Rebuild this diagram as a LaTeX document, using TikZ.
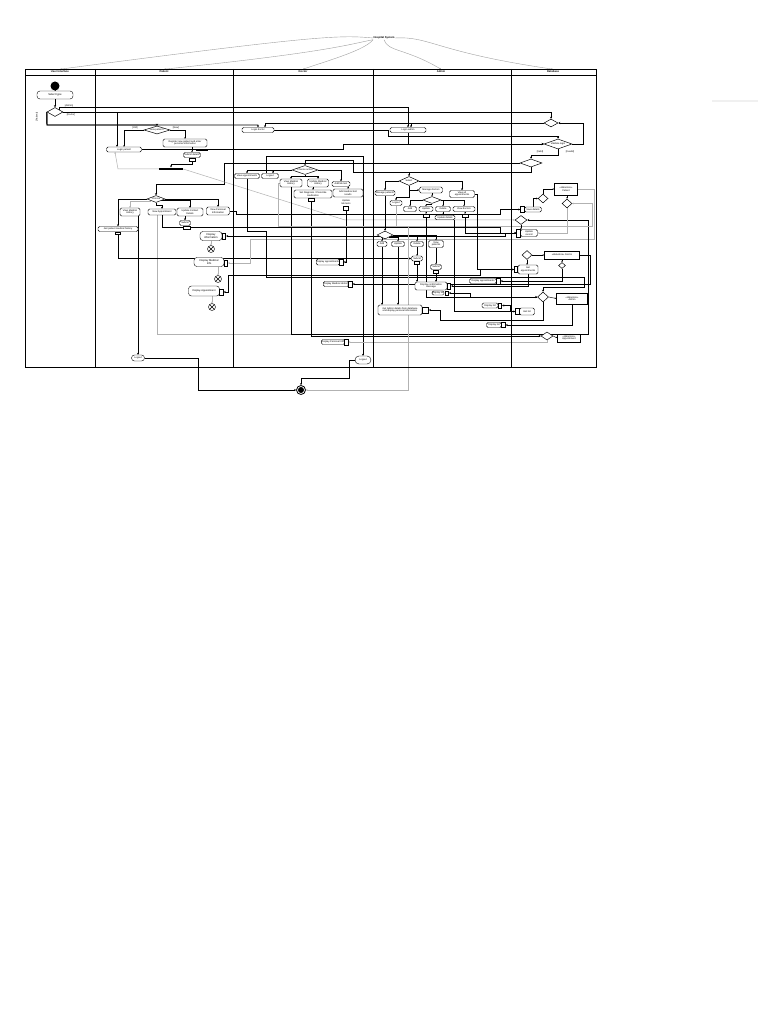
\documentclass[tikz,border=0pt]{standalone}
\usepackage{fontspec}
\setmainfont{Liberation Sans}
\usetikzlibrary{shapes.geometric,arrows.meta}
\pgfdeclarelayer{bg}
\pgfdeclarelayer{edges}
\pgfsetlayers{bg,edges,main}
\begin{document}
\begin{tikzpicture}[x=1pt,y=-1pt,
  every node/.style={font=\fontsize{2.4}{2.7}\selectfont, inner sep=0.3pt},
  act/.style={draw, rounded corners=1.5pt, fill=white, line width=0.4pt, align=center, minimum height=5pt},
  dec/.style={draw, diamond, aspect=2.5, fill=white, line width=0.5pt, inner sep=0pt, align=center},
  pinbox/.style={draw, fill=white, line width=0.8pt, inner sep=0pt, minimum width=3.5pt, minimum height=6pt},
  store/.style={draw, fill=white, line width=0.7pt, align=center, inner sep=0.5pt},
  xend/.style={draw, circle, fill=white, line width=0.45pt, inner sep=0pt, minimum size=7pt,
    path picture={\draw[line width=0.45pt] (path picture bounding box.north west)--(path picture bounding box.south east) (path picture bounding box.north east)--(path picture bounding box.south west);}},
  flow/.style={line width=0.95pt, -{Stealth[length=2pt,width=2pt]}},
  gflow/.style={line width=0.5pt, draw=gray!60, -{Stealth[length=1.6pt,width=1.6pt]}},
  tflow/.style={line width=0.45pt, -{Stealth[length=1.5pt,width=1.5pt]}},
  gline/.style={line width=0.5pt, draw=gray!60},
  curve/.style={line width=0.4pt, draw=gray!75, -{Stealth[length=1.8pt,width=1.6pt]}},
  lane/.style={line width=0.8pt},
  hdr/.style={font=\bfseries\fontsize{2.7}{3}\selectfont},
  guard/.style={font=\fontsize{2.4}{2.7}\selectfont, inner sep=0.2pt},
]
\useasboundingbox (0,0) rectangle (768,1024);
\begin{pgfonlayer}{bg}
\fill[white] (0,0) rectangle (768,1024);
\end{pgfonlayer}

% ---------- frame and lanes ----------
\draw[lane] (25,69) rectangle (596,367);
\draw[lane] (25,75) -- (596,75);
\foreach \x in {95,233,373,511} \draw[lane] (\x,69) -- (\x,367);
\node[hdr] (hui) at (60,72) {User Interface};
\node[hdr] (hpa) at (164,72) {Patient};
\node[hdr] (hdo) at (303,72) {Doctor};
\node[hdr] (had) at (441,72) {Admin};
\node[hdr] (hdb) at (553,72) {Database};
\coordinate (t1) at (60,69.2);
\coordinate (t2) at (164,69.2);
\coordinate (t3) at (303,69.2);
\coordinate (t4) at (441,69.2);
\coordinate (t5) at (553,69.2);
\node[font=\bfseries\fontsize{2.7}{3}\selectfont] (lab) at (384,38) {Hospital System};
\draw[gray!12, line width=1.2pt] (712,101) -- (758,101);

% ---------- user interface ----------
\node[circle, fill=black, inner sep=0, minimum size=9pt] (init) at (55,86) {};
\node[act, rounded corners=3pt, minimum width=36pt, minimum height=8pt, font=\fontsize{2.7}{3}\selectfont] (sel) at (55,95) {Select type};
\node[dec, minimum width=16pt, minimum height=9pt] (d1) at (55,112) {};
\node[guard] (gA) at (69,105.6) {[Admin]};
\node[guard] (gD) at (71,115) {[Doctor]};
\node[guard, rotate=90] (gP) at (37,117) {[Patient]};

% ---------- patient ----------
\node[dec, minimum width=26pt, minimum height=8pt] (dno) at (157,130) {New patient?};
\node[guard] (gO) at (135,128) {[Old]};
\node[guard] (gN) at (176,128) {[New]};
\node[act, minimum width=44pt, minimum height=8pt] (reg) at (185,143) {Register new patient and enter\\personal information};
\node[act, minimum width=35pt] (lpat) at (124,149.5) {Login patient};
\node[act, minimum width=17pt] (sd) at (192,155) {Submit details};
\node[fill=black, inner sep=0, minimum width=12pt, minimum height=2.2pt] (pbar) at (202,150) {};
\node[pinbox, minimum width=6pt, minimum height=3pt] (p1) at (192,160) {};
\node[fill=black, inner sep=0, minimum width=24pt, minimum height=2.8pt] (fork) at (171,169) {};
\node[dec, minimum width=18pt, minimum height=7pt] (dpat) at (156,199) {Choose};
\node[act, minimum width=20pt, minimum height=8pt] (vmh) at (130,212) {View Medical\\History};
\node[act, minimum width=28pt, minimum height=6pt] (nap) at (162,212) {New Appointment};
\node[act, minimum width=26pt, minimum height=8pt] (ucd) at (190,212) {Update Contact\\Details};
\node[act, minimum width=23pt, minimum height=8pt] (vpi) at (218,211) {View Personal\\Information};
\node[act, minimum width=40pt] (gpm) at (118,229) {Get patient medical history};
\node[pinbox, minimum width=5pt, minimum height=2.5pt] (p2) at (118,233.5) {};
\node[act, minimum width=11pt] (sub) at (185,223) {Submit};
\node[pinbox, minimum width=7pt, minimum height=3pt] (p3) at (187,228) {};
\node[act, rounded corners=3pt, minimum width=22pt, minimum height=9pt, font=\fontsize{2.7}{3}\selectfont] (din) at (211,236) {Display\\information};
\node[pinbox] (p4) at (224,236) {};
\node[xend] (x1) at (211,249) {};
\node[act, rounded corners=3pt, minimum width=30pt, minimum height=9pt, font=\fontsize{2.7}{3}\selectfont] (dmi) at (209,262) {Display Medical\\Info};
\node[pinbox] (p5) at (226,263) {};
\node[xend] (x2) at (218,279) {};
\node[act, rounded corners=3pt, minimum width=31pt, minimum height=10pt, font=\fontsize{2.5}{3}\selectfont] (dap) at (204,291) {Display Appointment};
\node[pinbox] (p6) at (221.5,292) {};
\node[xend] (x3) at (212,307) {};
\node[act, rounded corners=3pt, minimum width=13pt, minimum height=6pt] (lop) at (138,358) {Logout};

% ---------- doctor ----------
\node[act, minimum width=32pt] (ldoc) at (258,130) {Login doctor};
\node[dec, minimum width=26pt, minimum height=9pt] (ddoc) at (305,170) {Choose action};
\node[act, minimum width=25pt] (vap) at (247,176) {View appointments};
\node[act, minimum width=17pt] (lo2) at (270,176) {Logout};
\node[act, minimum width=22pt, minimum height=8pt] (vmh2) at (291,183) {View Medical\\History};
\node[act, minimum width=21pt, minimum height=8pt] (umh) at (318,183) {Update Medical\\History};
\node[act, minimum width=18pt] (alt) at (341,184) {Add lab test};
\node[act, minimum width=38pt, minimum height=8pt] (sdp) at (313,194) {Set Diagnosis / Prescribe\\medication};
\node[pinbox, minimum width=6pt, minimum height=3pt] (p7) at (311,200) {};
\node[act, minimum width=30pt, minimum height=8pt] (amt) at (348,193) {Add medical test\\results};
\node[align=center] (tlt) at (346,202) {Update\\lab tests};
\node[pinbox, minimum width=5pt, minimum height=4pt] (p8) at (346,208.5) {};
\node[act, minimum width=23pt, minimum height=6pt] (dap2) at (328,262) {Display appointments};
\node[pinbox] (p9) at (341.5,262) {};
\node[act, minimum width=24pt] (dmh2) at (336,284) {Display Medical History};
\node[pinbox] (p10) at (350.5,284) {};
\node[act, minimum width=23pt] (dpi2) at (333,342) {Display Personal Info};
\node[pinbox] (p11) at (346.5,342) {};
\node[act, rounded corners=4pt, minimum width=16pt, minimum height=8pt] (lod) at (363,360) {Logout};

% ---------- admin ----------
\node[act, minimum width=36pt] (ladm) at (408,130) {Login admin};
\node[dec, minimum width=20pt, minimum height=9pt] (dadm) at (409,181) {Select};
\node[act, minimum width=20pt] (mpa) at (385,193) {Manage patients};
\node[act, minimum width=23pt, minimum height=6pt] (mdr) at (431,190) {Manage doctors};
\node[act, minimum width=25pt, minimum height=7pt] (vaa) at (462,194) {View all\\appointments};
\node[act, minimum width=12pt] (lad) at (396,203) {Logout};
\node[dec, minimum width=18pt, minimum height=7pt] (dm2) at (432,200) {};
\node[act, minimum width=13pt] (n1) at (410,209) {Add};
\node[act, minimum width=14pt] (n2) at (426,209) {Update};
\node[act, minimum width=15pt] (n3) at (443,209) {Delete};
\node[act, minimum width=22pt] (n4) at (464,209) {View doctors};
\node[pinbox, minimum width=6pt, minimum height=3.5pt] (q1) at (426,216) {};
\node[act, minimum width=20pt, minimum height=4.5pt] (q2) at (445,217.5) {Update details};
\node[pinbox, minimum width=6pt, minimum height=3.5pt] (q3) at (465,216) {};
\node[dec, minimum width=16pt, minimum height=8pt] (dp3) at (385,235) {};
\node[act, minimum width=10pt] (m1) at (382,244) {Add};
\node[act, minimum width=13pt] (m2) at (398,244) {Update};
\node[act, minimum width=13pt] (m3) at (417,244) {Delete};
\node[act, minimum width=15pt, minimum height=7pt] (m4) at (436,244) {View\\patients};
\node[act, minimum width=11pt] (r1) at (417,258.5) {Submit};
\node[pinbox, minimum width=5pt, minimum height=3pt] (q4) at (417,263) {};
\node[act, minimum width=11pt] (r2) at (436,267) {Submit};
\node[pinbox, minimum width=5pt, minimum height=3pt] (q5) at (436,271.5) {};
\node[act, minimum width=27pt] (r3) at (483,281) {Display appointments};
\node[pinbox] (q6) at (498.5,281) {};
\node[act, minimum width=32pt, minimum height=8pt] (r4) at (431,286) {Display confirmation\\message};
\node[pinbox] (q7) at (449,286) {};
\node[act, minimum width=12pt, minimum height=4pt] (r5) at (438,293) {Display list};
\node[pinbox, minimum width=3pt, minimum height=4pt] (q8) at (447,293) {};
\node[act, minimum width=44pt, minimum height=10pt] (r6) at (400,310) {Get Admin details from database\\and display personal information};
\node[pinbox, minimum width=6pt, minimum height=6pt] (q9) at (425.5,310) {};
\node[act, minimum width=16pt] (r7) at (490,305.5) {Display list};
\node[pinbox, minimum height=5pt] (q10) at (500,305.5) {};
\node[act, minimum width=15pt] (r8) at (494,325) {Display list};
\node[pinbox, minimum height=5pt] (q11) at (503.5,325) {};

% ---------- database ----------
\node[dec, minimum width=14pt, minimum height=8pt] (ddb1) at (551,123) {};
\node[dec, minimum width=28pt, minimum height=10pt] (ddb2) at (558,144) {Validate login};
\node[guard] (gV) at (540,151.5) {[Valid]};
\node[guard] (gI) at (570,152) {[Invalid]};
\node[dec, minimum width=22pt, minimum height=8pt] (ddb3) at (531,163) {};
\node[store, minimum width=23pt, minimum height=12pt] (st1) at (566,189) {«datastore»\\Patient};
\node[dec, minimum width=10pt, minimum height=9pt] (dd1) at (543,198.5) {};
\node[dec, minimum width=10pt, minimum height=9pt] (dd2) at (567,203.5) {};
\node[act, minimum width=17pt] (s1) at (533,209.5) {Save details};
\node[pinbox] (sp1) at (522.5,209.5) {};
\node[dec, minimum width=12pt, minimum height=9pt] (dd3) at (521,220) {};
\node[act, minimum width=17pt, minimum height=7pt] (s2) at (529,233) {Update\\record};
\node[pinbox, minimum height=8pt] (sp2) at (518.5,233) {};
\node[dec, minimum width=10pt, minimum height=9pt] (dd4) at (527,255) {};
\node[store, minimum width=35pt, minimum height=8pt] (st2) at (562,255) {«datastore» Doctor};
\node[dec, minimum width=7pt, minimum height=6pt] (dd5) at (562,265.5) {};
\node[act, minimum width=20pt, minimum height=9pt] (s3) at (528,269.5) {Get\\appointments};
\node[pinbox] (sp3) at (516,269.5) {};
\node[dec, minimum width=11pt, minimum height=10pt] (dd6) at (543,297) {};
\node[store, minimum width=31pt, minimum height=11pt] (st3) at (572,298.5) {«datastore»\\Admin};
\node[act, minimum width=15pt, minimum height=7pt] (s4) at (527,311.5) {Get list};
\node[pinbox] (sp4) at (517.5,311.5) {};
\node[dec, minimum width=12pt, minimum height=8pt] (dd7) at (547,336) {};
\node[store, minimum width=23pt, minimum height=8pt] (st4) at (569,338) {«datastore»\\Appointment};

% ---------- final ----------
\node[circle, draw, line width=0.8pt, fill=white, inner sep=0, minimum size=9pt] (fin) at (301,390) {};
\node[circle, fill=black, inner sep=0, minimum size=6pt] (fincore) at (fin.center) {};

% ================= connectors =================
\begin{pgfonlayer}{edges}
% title curves
\draw[curve] (lab.west) .. controls (340,35) and (320,35) .. (t1);
\draw[curve] (lab.south west) .. controls (350,44) and (330,52) .. (t2);
\draw[curve] (lab.south west) .. controls (365,50) and (330,60) .. (t3);
\draw[curve] (lab.south) .. controls (388,52) and (405,48) .. (t4);
\draw[curve] (lab.east) .. controls (430,36) and (435,52) .. (t5);

% login part
\draw[flow] (init) -- (sel);
\draw[flow] (sel) -- (d1);
\draw[flow] (d1.north east) -- ++(0,-1.75) -| (ladm.north);
\draw[flow] (d1.east) -| ([xshift=-7pt]lpat.north);
\draw[flow] (d1.east) -| (ddb1.north);
\draw[flow] (d1.west) -- (47,125) -| (dno.north);
\draw[flow] (d1.west) -- (47,125) -| (ldoc.north);
\draw[flow] (ddb1.west) -| ([xshift=7pt]ldoc.north);
\draw[flow] (ddb1.west) -| ([xshift=3pt]ladm.north);
\draw[flow] (ldoc.east) -- (388,130) |- (558,136) -- (ddb2.north);
\draw[flow] (lpat.east) -- (343,149.5) |- (ddb2.west);
\draw[flow] (ladm.south) |- (ddb2.west);
\draw[flow] (ddb2.east) -- (583,144) |- (ddb1.east);
\draw[flow] (ddb2.south) -- (558,155) -| (ddb3.north);
\draw[flow] (ddb3.south) -- (531,172) -| (dadm.north);
\draw[flow] (ddb3.south) -- (531,172) -- (353,172) -- (353,160) -| (ddoc.north);
\draw[flow] (ddb3.west) -- (224,163) -- (224,184) -| (dpat.north);

% patient
\draw[tflow] (dno.west) -| (lpat.north);
\draw[tflow] (dno.east) -| (reg.north);
\draw[tflow] (reg.south -| sd.north) -- (sd.north);
\draw[flow] (p1.south) -- (192,164) -| (fork.north);
\draw[gflow] (fork.west) -- (118,169) -- ([xshift=-9pt]lpat.south);
\draw[gflow] (fork.east) -- (345,220) -- (dd3.west);
\draw[flow] (dpat.west) -| (gpm.north);
\draw[gflow] (dpat.south west) -| (vmh.north);
\draw[flow] (dpat.south) -- (156,205) -| (nap.north);
\draw[flow] (dpat.south east) -| (ucd.north);
\draw[flow] (dpat.east) -| (vpi.north);
\draw[flow] (vmh.south -| lop.north) -- (lop.north);
\draw[gline] ([xshift=-5pt]nap.south) -- (157,334) -- (300,334);
\draw[flow] (lop.east) -| (198,390) -- (fin.west);
\draw[flow] (ucd.south -| sub.north) -- (sub.north);
\draw[flow] (nap.south) |- (500,227) |- (sp2.west);
\draw[flow] (p2.south) |- (r1.west);
\draw[flow] (vpi.east) -- (236,211) |- (500,214) |- (sp1.west);
\draw[flow] (sp2.west) -- (505,233) |- (p4.east);
\draw[flow] (sp3.west) -- (480,269.5) |- (228,275) |- (p6.east);
\draw[gflow] (st1.east) -- (594,189) |- (250,239) |- (p5.east);
\draw[gflow] (din.south) -- (x1.north);
\draw[gflow] (dmi.south -| x2.north) -- (x2.north);
\draw[gflow] (dap.south -| x3.north) -- (x3.north);

% doctor
\draw[flow] (ddoc.west) -| (vap.north);
\draw[flow] (ddoc.west) -| ([xshift=3pt]lo2.north);
\draw[flow] (ddoc.south) -- (305,176.5) -| (vmh2.north);
\draw[flow] (ddoc.south) -- (305,176.5) -| (umh.north);
\draw[flow] (ddoc.east) -| (alt.north);
\draw[tflow] (umh.south -| sdp.north) -- (sdp.north);
\draw[tflow] (alt.south -| amt.north) -- (amt.north);
\draw[flow] (p8.south) |- (p9.east);
\draw[flow] ([xshift=-4pt]lo2.north) |- (363,156) -- (lod.north);
\draw[flow] (lod.west) -- (349,360) -- (349,378) -| (fin.north);
\draw[flow] (vmh2.south) |- (588,334) -- (588,220) -- (dd3.east);
\draw[flow] (p7.south) |- (dd7.west);
\draw[flow] (vap.south) -- (247,231) -| (266,277) -- (584,277) -- (584,287) -| (dd6.north);
\draw[gflow] (vmh2.west) -| (278,226) -- (592,226) |- (dd2.east);
\draw[flow] (st2.east) -- (590,255) |- (p10.east);
\draw[gflow] (dd7.south) |- (p11.east);

% admin
\draw[flow] (dadm.west) -| (mpa.north);
\draw[flow] (dadm.east) -| (vaa.north);
\draw[flow] (dadm.south) |- (mdr.west);
\draw[flow] (dadm.south) -- (409,197.5) -| (lad.north);
\draw[tflow] (mdr.south -| dm2.north) -- (dm2.north);
\draw[tflow] (dm2.west) -| (n1.north);
\draw[tflow] (dm2.south) -| (n2.north);
\draw[tflow] (dm2.east) -| (n3.north);
\draw[tflow] (dm2.east) -| (n4.north);
\draw[tflow] (n2.south) -- (q1.north);
\draw[tflow] (n3.south) -- (n3.south |- q2.north);
\draw[tflow] (n4.south -| q3.north) -- (q3.north);
\draw[flow] (q1.south) |- (dd6.west);
\draw[flow] ([xshift=9pt]q2.south) |- (sp4.west);
\draw[flow] (q3.south) |- (sp2.west);
\draw[flow] (vaa.east) -- (477,194) |- (sp3.west);
\draw[flow] (mpa.south) -- (dp3.north);
\draw[tflow] (dp3.south west) -| (m1.north);
\draw[tflow] (dp3.south east) -| (m2.north);
\draw[tflow] (dp3.east) -| (m3.north);
\draw[tflow] (dp3.east) -| (m4.north);
\draw[tflow] (m3.south) -- (r1.north);
\draw[tflow] (m4.south) -- (r2.north);
\draw[flow] (q5.south) -- (q5.south |- r4.north);
\draw[flow] (q4.south) -- (q4.south |- r4.north);
\draw[flow] (m1.south) -- (m1.south |- r6.north);
\draw[flow] (m2.south) -- (m2.south |- r6.north);
\draw[gflow] (lad.south) |- (408,226) -- (408,390) -- (fin.east);
\draw[flow] (dd5.south) |- (q6.east);
\draw[flow] (s3.south) |- (q7.east);
\draw[flow] (dd6.west) -- (470,297) |- (q8.east);
\draw[flow] (dd6.south) |- (440,320) |- (q9.east);
\draw[flow] (sp4.west) -- (510,311.5) |- (q10.east);
\draw[flow] (st3.south) |- (q11.east);

% database
\draw[tflow] (dd6.east) -- (st3.west);
\draw[tflow] (dd7.east) -- (st4.west);
\draw[tflow] (dd4.east) -- (st2.west);
\draw[tflow] (st2.south -| dd5.north) -- (dd5.north);
\draw[tflow] (dd4.south) -- (dd4.south |- s3.north);
\draw[tflow] (s1.north) |- (dd1.west);
\draw[tflow] (dd1.north) |- (st1.west);
\draw[tflow] (st1.south -| dd2.north) -- (dd2.north);
\draw[gflow] (dd2.south) |- (s2.east);
\draw[tflow] (dd3.south) -- (dd3.south |- s2.north);
\end{pgfonlayer}
\end{tikzpicture}
\end{document}
